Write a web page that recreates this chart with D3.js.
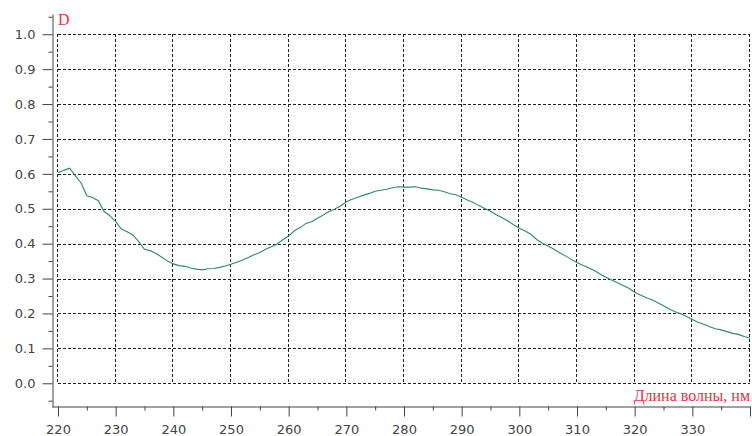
<!DOCTYPE html>
<html>
<head>
<meta charset="utf-8">
<script src="https://cdn.jsdelivr.net/npm/d3@7"></script>
<style>
  body { margin: 0; background: #fff; }
  svg { display: block; }
</style>
</head>
<body>
<div id="spectrum_chart"></div>
<script>

// wavelength, nm (1 nm step)
var wavelengths = d3.range(220, 341);

// absorbance D, 220..340 nm
var absorbance = [
  0.603, 0.610, 0.616, 0.595, 0.574, 0.537, 0.532, 0.523, 0.492, 0.480,
  0.463, 0.442, 0.434, 0.425, 0.406, 0.384, 0.380, 0.372, 0.361, 0.350,
  0.342, 0.337, 0.335, 0.330, 0.327, 0.325, 0.328, 0.329, 0.332, 0.336,
  0.341, 0.347, 0.353, 0.360, 0.368, 0.375, 0.384, 0.391, 0.399, 0.411,
  0.422, 0.437, 0.446, 0.458, 0.463, 0.473, 0.482, 0.492, 0.499, 0.508,
  0.520, 0.527, 0.533, 0.539, 0.544, 0.550, 0.553, 0.556, 0.560, 0.563,
  0.562, 0.562, 0.563, 0.559, 0.557, 0.554, 0.553, 0.549, 0.543, 0.540,
  0.533, 0.525, 0.518, 0.509, 0.501, 0.493, 0.483, 0.474, 0.465, 0.454,
  0.444, 0.436, 0.427, 0.412, 0.401, 0.393, 0.384, 0.374, 0.365, 0.355,
  0.346, 0.338, 0.331, 0.323, 0.313, 0.304, 0.296, 0.288, 0.280, 0.272,
  0.261, 0.253, 0.245, 0.239, 0.231, 0.222, 0.213, 0.205, 0.199, 0.191,
  0.183, 0.175, 0.169, 0.162, 0.156, 0.153, 0.148, 0.143, 0.140, 0.134,
  0.129
];

var xTicks = d3.range(220, 341, 10);
var xTickLabels = d3.range(220, 331, 10);   // 340 has a tick but no label
var xMinorTicks = d3.range(225, 340, 10);
var yTicks = d3.range(0, 11).map(function(i) { return i / 10; });
var yMinorTicks = d3.range(-1, 22, 2).map(function(i) { return i / 20; });

var xTitle = "Длина волны, нм";
var yTitle = "D";

var data = wavelengths.map(function(w, i) { return {w: w, d: absorbance[i]}; });

var width = 752, height = 436;

var svg = d3.select("#spectrum_chart")
  .append("svg")
    .attr("width", width)
    .attr("height", height);

// scales
var x = d3.scaleLinear()
  .domain([218.96, 340])
  .range([52, 750]);

var y = d3.scaleLinear()
  .domain([-0.068, 1.058])
  .range([407, 14]);

// dashed grid
var grid = svg.append("g")
  .attr("stroke", "#222")
  .attr("stroke-width", 1)
  .attr("stroke-dasharray", "3,2")
  .attr("shape-rendering", "crispEdges");

grid.selectAll("line.h")
  .data(yTicks)
  .enter().append("line")
    .attr("class", "h")
    .attr("x1", x(220))
    .attr("x2", x(340))
    .attr("y1", function(d) { return Math.round(y(d)) + 0.5; })
    .attr("y2", function(d) { return Math.round(y(d)) + 0.5; });

grid.selectAll("line.v")
  .data(xTicks)
  .enter().append("line")
    .attr("class", "v")
    .attr("x1", function(d) { return Math.round(x(d)) - 0.5; })
    .attr("x2", function(d) { return Math.round(x(d)) - 0.5; })
    .attr("y1", y(1))
    .attr("y2", y(0));

// axes
function styleAxis(g) {
  g.select(".domain").attr("stroke", "#444");
  g.selectAll(".tick line").attr("stroke", "#444");
  g.selectAll("text")
    .attr("fill", "#444")
    .attr("font-family", "DejaVu Sans, Verdana, sans-serif")
    .attr("font-size", 13);
}

var yAxis = svg.append("g")
  .attr("transform", "translate(52.5,0)")
  .call(d3.axisLeft(y).tickValues(yTicks).tickSize(10).tickSizeOuter(0).tickPadding(7)
    .tickFormat(d3.format(".1f")))
  .call(styleAxis);

svg.append("g")
  .attr("transform", "translate(52.5,0)")
  .call(d3.axisLeft(y).tickValues(yMinorTicks).tickSize(4).tickSizeOuter(0).tickFormat(""))
  .call(function(g) { g.select(".domain").remove(); g.selectAll("line").attr("stroke", "#444"); });

var xAxis = svg.append("g")
  .attr("transform", "translate(0,406.5)")
  .call(d3.axisBottom(x).tickValues(xTicks).tickSize(10).tickSizeOuter(0).tickPadding(8)
    .tickFormat(function(d) { return xTickLabels.indexOf(d) >= 0 ? d : ""; }))
  .call(styleAxis);

svg.append("g")
  .attr("transform", "translate(0,406.5)")
  .call(d3.axisBottom(x).tickValues(xMinorTicks).tickSize(4).tickSizeOuter(0).tickFormat(""))
  .call(function(g) { g.select(".domain").remove(); g.selectAll("line").attr("stroke", "#444"); });

// spectrum line
var line = d3.line()
  .x(function(d) { return x(d.w); })
  .y(function(d) { return y(d.d); });

svg.append("path")
  .datum(data)
  .attr("fill", "none")
  .attr("stroke", "#2b8f5a")
  .attr("stroke-width", 1.1)
  .attr("d", line);

// axis titles
svg.append("text")
  .attr("x", 58)
  .attr("y", 25)
  .attr("fill", "#e8333f")
  .attr("font-family", "Liberation Serif, Times New Roman, serif")
  .attr("font-size", 16)
  .text(yTitle);

svg.append("text")
  .attr("x", 750)
  .attr("y", 401)
  .attr("text-anchor", "end")
  .attr("fill", "#e8333f")
  .attr("font-family", "Liberation Serif, Times New Roman, serif")
  .attr("font-size", 16)
  .text(xTitle);

</script>
</body>
</html>
